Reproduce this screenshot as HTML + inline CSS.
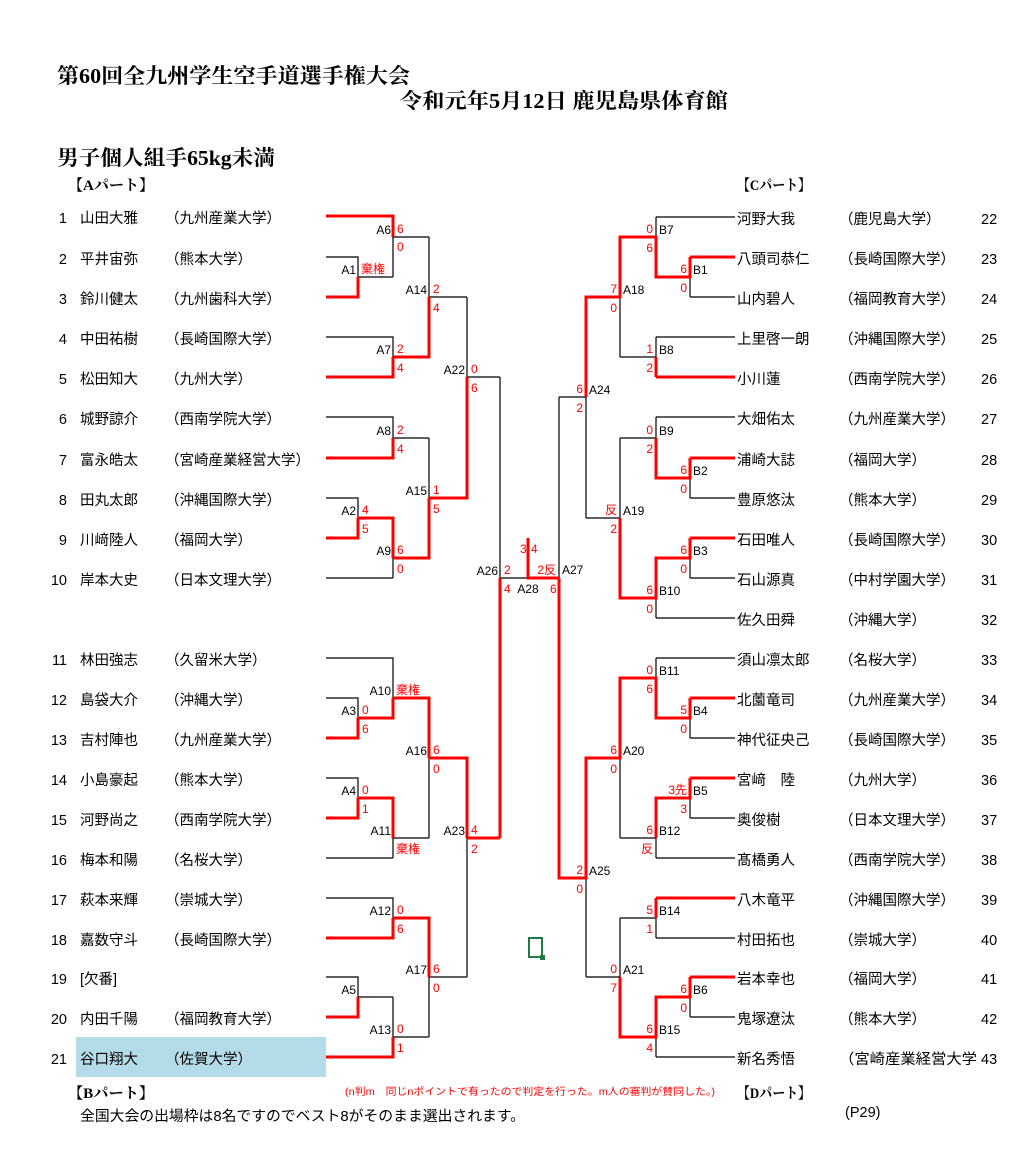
<!DOCTYPE html>
<html><head><meta charset="utf-8"><style>
html,body{margin:0;padding:0;background:#fff;}
svg{display:block;}
.t{font-family:"Liberation Serif","Noto Serif CJK SC",serif;fill:#000;}
.g{font-family:"Liberation Sans","Noto Sans CJK JP",sans-serif;fill:#000;font-size:14.5px;}
.l{font-family:"Liberation Sans","Noto Sans CJK JP",sans-serif;font-size:12px;fill:#000;}
.s{font-family:"Liberation Sans","Noto Sans CJK JP",sans-serif;font-size:12px;fill:#f00;}
.b{stroke:#000;stroke-width:1.2;fill:none;}
.r{stroke:#f00;stroke-width:3;fill:none;}
</style></head><body>
<svg width="1028" height="1176" viewBox="0 0 1028 1176" xmlns="http://www.w3.org/2000/svg">
<rect x="76" y="1037" width="250" height="40" fill="#b4dce8"/>
<text class="t" x="57" y="83" font-size="21" font-weight="bold" textLength="353" lengthAdjust="spacingAndGlyphs">第60回全九州学生空手道選手権大会</text>
<text class="t" x="400" y="108" font-size="21" font-weight="bold" textLength="328" lengthAdjust="spacingAndGlyphs">令和元年5月12日 鹿児島県体育館</text>
<text class="t" x="57" y="165" font-size="21" font-weight="bold" textLength="218" lengthAdjust="spacingAndGlyphs">男子個人組手65kg未満</text>
<text class="t" x="68" y="190" font-size="15" font-weight="bold" textLength="86" lengthAdjust="spacingAndGlyphs">【Aパート】</text>
<text class="t" x="737" y="190" font-size="15" font-weight="bold" textLength="74" lengthAdjust="spacingAndGlyphs">【Cパート】</text>
<text class="t" x="68" y="1098" font-size="15" font-weight="bold" textLength="86" lengthAdjust="spacingAndGlyphs">【Bパート】</text>
<text class="t" x="737" y="1098" font-size="15" font-weight="bold" textLength="74" lengthAdjust="spacingAndGlyphs">【Dパート】</text>
<text x="345" y="1095" font-size="10" fill="#f00" font-family="Liberation Sans,Noto Sans CJK JP,sans-serif" textLength="370" lengthAdjust="spacingAndGlyphs">(n判m　同じnポイントで有ったので判定を行った。m人の審判が賛同した。)</text>
<text class="g" x="80" y="1121" textLength="445" lengthAdjust="spacingAndGlyphs">全国大会の出場枠は8名ですのでベスト8がそのまま選出されます。</text>
<text class="g" x="845" y="1117" font-size="13">(P29)</text>

<g class="g">
<g text-anchor="end">
<text x="67" y="223">1</text><text x="67" y="264">2</text><text x="67" y="304">3</text><text x="67" y="344">4</text><text x="67" y="384">5</text><text x="67" y="424">6</text><text x="67" y="465">7</text><text x="67" y="505">8</text><text x="67" y="545">9</text><text x="67" y="585">10</text>
<text x="67" y="665">11</text><text x="67" y="705">12</text><text x="67" y="745">13</text><text x="67" y="785">14</text><text x="67" y="825">15</text><text x="67" y="865">16</text><text x="67" y="905">17</text><text x="67" y="945">18</text><text x="67" y="984">19</text><text x="67" y="1024">20</text><text x="67" y="1064">21</text>
</g>
<text x="80" y="223">山田大雅</text><text x="165" y="223">（九州産業大学）</text>
<text x="80" y="264">平井宙弥</text><text x="165" y="264">（熊本大学）</text>
<text x="80" y="304">鈴川健太</text><text x="165" y="304">（九州歯科大学）</text>
<text x="80" y="344">中田祐樹</text><text x="165" y="344">（長崎国際大学）</text>
<text x="80" y="384">松田知大</text><text x="165" y="384">（九州大学）</text>
<text x="80" y="424">城野諒介</text><text x="165" y="424">（西南学院大学）</text>
<text x="80" y="465">富永皓太</text><text x="165" y="465">（宮崎産業経営大学）</text>
<text x="80" y="505">田丸太郎</text><text x="165" y="505">（沖縄国際大学）</text>
<text x="80" y="545">川﨑陸人</text><text x="165" y="545">（福岡大学）</text>
<text x="80" y="585">岸本大史</text><text x="165" y="585">（日本文理大学）</text>
<text x="80" y="665">林田強志</text><text x="165" y="665">（久留米大学）</text>
<text x="80" y="705">島袋大介</text><text x="165" y="705">（沖縄大学）</text>
<text x="80" y="745">吉村陣也</text><text x="165" y="745">（九州産業大学）</text>
<text x="80" y="785">小島豪起</text><text x="165" y="785">（熊本大学）</text>
<text x="80" y="825">河野尚之</text><text x="165" y="825">（西南学院大学）</text>
<text x="80" y="865">梅本和陽</text><text x="165" y="865">（名桜大学）</text>
<text x="80" y="905">萩本来輝</text><text x="165" y="905">（崇城大学）</text>
<text x="80" y="945">嘉数守斗</text><text x="165" y="945">（長崎国際大学）</text>
<text x="80" y="984">[欠番]</text>
<text x="80" y="1024">内田千陽</text><text x="165" y="1024">（福岡教育大学）</text>
<text x="80" y="1064">谷口翔大</text><text x="165" y="1064">（佐賀大学）</text>

<text x="737" y="224">河野大我</text><text x="839" y="224">（鹿児島大学）</text><text x="981" y="224">22</text>
<text x="737" y="264">八頭司恭仁</text><text x="839" y="264">（長崎国際大学）</text><text x="981" y="264">23</text>
<text x="737" y="304">山内碧人</text><text x="839" y="304">（福岡教育大学）</text><text x="981" y="304">24</text>
<text x="737" y="344">上里啓一朗</text><text x="839" y="344">（沖縄国際大学）</text><text x="981" y="344">25</text>
<text x="737" y="384">小川蓮</text><text x="839" y="384">（西南学院大学）</text><text x="981" y="384">26</text>
<text x="737" y="424">大畑佑太</text><text x="839" y="424">（九州産業大学）</text><text x="981" y="424">27</text>
<text x="737" y="465">浦崎大誌</text><text x="839" y="465">（福岡大学）</text><text x="981" y="465">28</text>
<text x="737" y="505">豊原悠汰</text><text x="839" y="505">（熊本大学）</text><text x="981" y="505">29</text>
<text x="737" y="545">石田唯人</text><text x="839" y="545">（長崎国際大学）</text><text x="981" y="545">30</text>
<text x="737" y="585">石山源真</text><text x="839" y="585">（中村学園大学）</text><text x="981" y="585">31</text>
<text x="737" y="625">佐久田舜</text><text x="839" y="625">（沖縄大学）</text><text x="981" y="625">32</text>
<text x="737" y="665">須山凛太郎</text><text x="839" y="665">（名桜大学）</text><text x="981" y="665">33</text>
<text x="737" y="705">北薗竜司</text><text x="839" y="705">（九州産業大学）</text><text x="981" y="705">34</text>
<text x="737" y="745">神代征央己</text><text x="839" y="745">（長崎国際大学）</text><text x="981" y="745">35</text>
<text x="737" y="785">宮﨑　陸</text><text x="839" y="785">（九州大学）</text><text x="981" y="785">36</text>
<text x="737" y="825">奥俊樹</text><text x="839" y="825">（日本文理大学）</text><text x="981" y="825">37</text>
<text x="737" y="865">髙橋勇人</text><text x="839" y="865">（西南学院大学）</text><text x="981" y="865">38</text>
<text x="737" y="905">八木竜平</text><text x="839" y="905">（沖縄国際大学）</text><text x="981" y="905">39</text>
<text x="737" y="945">村田拓也</text><text x="839" y="945">（崇城大学）</text><text x="981" y="945">40</text>
<text x="737" y="984">岩本幸也</text><text x="839" y="984">（福岡大学）</text><text x="981" y="984">41</text>
<text x="737" y="1024">鬼塚遼汰</text><text x="839" y="1024">（熊本大学）</text><text x="981" y="1024">42</text>
<text x="737" y="1064">新名秀悟</text><text x="839" y="1064" textLength="138" lengthAdjust="spacingAndGlyphs">（宮崎産業経営大学</text><text x="981" y="1064">43</text>
</g>

<path class="b" d="
M326 257H358V277 M358 277H393 M393 237V277 M393 237H429
M326 337H393V357
M429 237V297 M429 297H467
M326 417H393V438 M393 438H429
M326 498H358V518
M393 558V578 M326 578H393
M429 438V498
M467 297V377 M467 377H500 M500 377V578 M500 578H528
M326 658H393V698
M326 698H358V718
M429 758V838
M326 778H358V798
M393 838V858 M326 858H393 M393 838H429
M467 838V977
M326 898H393V918
M429 977V1037 M429 977H467
M326 977H358V997 M358 997H393 M393 997V1037 M393 1037H429
M656 217H735 M656 217V237
M690 277V297 M690 297H735
M620 297V357 M656 337H735 M656 337V357 M620 357H656
M586 397V518 M559 397H586 M559 397V578
M586 518H620 M620 438V518 M620 438H656
M656 417H735 M656 417V438
M690 478V498 M690 498H735
M656 598V618 M656 618H735
M690 558V578 M690 578H735
M656 658H735 M656 658V678
M690 718V738 M690 738H735
M620 758V838 M620 838H656
M656 838V858 M656 858H735
M690 798V818 M690 818H735
M586 878V977 M586 977H620 M620 918V977 M620 918H656
M656 918V938 M656 938H735
M690 997V1017 M690 1017H735
M656 1037V1057 M656 1057H735
"/>
<path class="r" d="
M326 216H393V237
M326 297H358V277
M326 377H393V357 M393 357H429V297
M326 458H393V438
M326 538H358V518 M358 518H393V558 M393 558H429V498 M429 498H467V377
M500 578V838
M528 538V578H559
M326 738H358V718 M358 718H393V698 M393 698H429V758 M429 758H467V838 M467 838H500
M326 818H358V798 M358 798H393V838
M326 938H393V918 M393 918H429V977
M326 1017H358V997
M326 1057H393V1037
M690 257H735 M690 257V277H656V237H620V297H586V397
M656 377H735 M656 377V357
M690 458H735 M690 458V478H656V438
M690 538H735 M690 538V558H656V598H620V518
M690 698H735 M690 698V718H656V678H620V758H586V878H559V578
M690 778H735 M690 778V798H656V838
M656 898H735 M656 898V918
M690 977H735 M690 977V997H656V1037H620V977
"/>

<g class="l" text-anchor="end">
<text x="391" y="234">A6</text><text x="356" y="274">A1</text><text x="427" y="294">A14</text><text x="391" y="354">A7</text><text x="465" y="374">A22</text><text x="391" y="435">A8</text><text x="427" y="495">A15</text><text x="356" y="515">A2</text><text x="391" y="555">A9</text><text x="498" y="575">A26</text>
<text x="391" y="695">A10</text><text x="356" y="715">A3</text><text x="427" y="755">A16</text><text x="356" y="795">A4</text><text x="391" y="835">A11</text><text x="465" y="835">A23</text><text x="391" y="915">A12</text><text x="427" y="974">A17</text><text x="356" y="994">A5</text><text x="391" y="1034">A13</text>
</g>
<g class="s">
<text x="397" y="233">6</text><text x="397" y="251">0</text>
<text x="361" y="273">棄権</text>
<text x="433" y="293">2</text><text x="433" y="312">4</text>
<text x="397" y="353">2</text><text x="397" y="372">4</text>
<text x="471" y="373">0</text><text x="471" y="392">6</text>
<text x="397" y="434">2</text><text x="397" y="453">4</text>
<text x="433" y="494">1</text><text x="433" y="513">5</text>
<text x="362" y="514">4</text><text x="362" y="533">5</text>
<text x="397" y="554">6</text><text x="397" y="573">0</text>
<text x="504" y="574">2</text><text x="504" y="593">4</text>
<text x="396" y="694">棄権</text>
<text x="362" y="714">0</text><text x="362" y="733">6</text>
<text x="433" y="754">6</text><text x="433" y="773">0</text>
<text x="362" y="794">0</text><text x="362" y="813">1</text>
<text x="396" y="853">棄権</text>
<text x="471" y="834">4</text><text x="471" y="853">2</text>
<text x="397" y="914">0</text><text x="397" y="933">6</text>
<text x="433" y="973">6</text><text x="433" y="992">0</text>
<text x="397" y="1033">0</text><text x="397" y="1052">1</text>
<text x="520" y="553">3</text><text x="531" y="553">4</text>
<text x="550" y="593">6</text>
</g>
<text class="s" x="556" y="574" text-anchor="end">2反</text>
<text class="l" x="528" y="593" text-anchor="middle">A28</text>
<text class="l" x="562" y="574">A27</text>

<g class="l">
<text x="659" y="234">B7</text><text x="693" y="274">B1</text><text x="623" y="294">A18</text><text x="659" y="354">B8</text><text x="589" y="394">A24</text>
<text x="659" y="435">B9</text><text x="693" y="475">B2</text><text x="623" y="515">A19</text><text x="693" y="555">B3</text><text x="659" y="595">B10</text>
<text x="659" y="675">B11</text><text x="693" y="715">B4</text><text x="623" y="755">A20</text><text x="693" y="795">B5</text><text x="659" y="835">B12</text><text x="589" y="875">A25</text>
<text x="659" y="915">B14</text><text x="623" y="974">A21</text><text x="693" y="994">B6</text><text x="659" y="1034">B15</text>
</g>
<g class="s" text-anchor="end">
<text x="653" y="233">0</text><text x="653" y="252">6</text>
<text x="687" y="273">6</text><text x="687" y="292">0</text>
<text x="617" y="293">7</text><text x="617" y="312">0</text>
<text x="653" y="353">1</text><text x="653" y="372">2</text>
<text x="583" y="393">6</text><text x="583" y="412">2</text>
<text x="653" y="434">0</text><text x="653" y="453">2</text>
<text x="687" y="474">6</text><text x="687" y="493">0</text>
<text x="617" y="514">反</text><text x="617" y="533">2</text>
<text x="687" y="554">6</text><text x="687" y="573">0</text>
<text x="653" y="594">6</text><text x="653" y="613">0</text>
<text x="653" y="674">0</text><text x="653" y="693">6</text>
<text x="687" y="714">5</text><text x="687" y="733">0</text>
<text x="617" y="754">6</text><text x="617" y="773">0</text>
<text x="687" y="794">3先</text><text x="687" y="813">3</text>
<text x="653" y="834">6</text><text x="653" y="853">反</text>
<text x="583" y="874">2</text><text x="583" y="893">0</text>
<text x="653" y="914">5</text><text x="653" y="933">1</text>
<text x="617" y="973">0</text><text x="617" y="992">7</text>
<text x="687" y="993">6</text><text x="687" y="1012">0</text>
<text x="653" y="1033">6</text><text x="653" y="1052">4</text>
</g>

<rect x="529" y="938" width="13" height="19" fill="none" stroke="#1f7a45" stroke-width="2"/>
<rect x="540" y="955" width="5" height="5" fill="#1f7a45"/>
</svg>
</body></html>
